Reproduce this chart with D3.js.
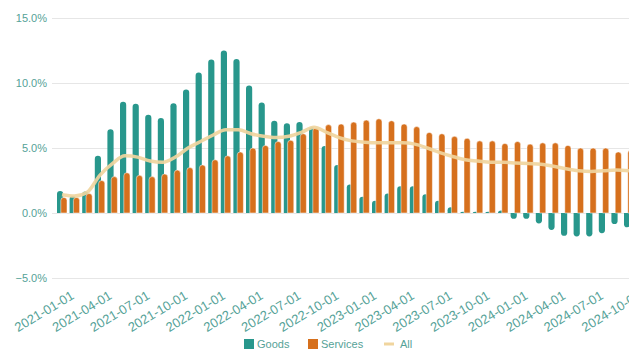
<!DOCTYPE html>
<html>
<head>
<meta charset="utf-8">
<script src="https://cdn.jsdelivr.net/npm/d3@7"></script>
<style>
  html, body { margin: 0; padding: 0; background: #ffffff; }
  svg { display: block; font-family: "Liberation Sans", Arial, Helvetica, sans-serif; }
</style>
</head>
<body>
<svg id="chart" width="629" height="352"></svg>
<script>
// Monthly year-over-year inflation, goods vs services vs all items (%)
const months = [
  "2021-01-01","2021-02-01","2021-03-01","2021-04-01","2021-05-01","2021-06-01",
  "2021-07-01","2021-08-01","2021-09-01","2021-10-01","2021-11-01","2021-12-01",
  "2022-01-01","2022-02-01","2022-03-01","2022-04-01","2022-05-01","2022-06-01",
  "2022-07-01","2022-08-01","2022-09-01","2022-10-01","2022-11-01","2022-12-01",
  "2023-01-01","2023-02-01","2023-03-01","2023-04-01","2023-05-01","2023-06-01",
  "2023-07-01","2023-08-01","2023-09-01","2023-10-01","2023-11-01","2023-12-01",
  "2024-01-01","2024-02-01","2024-03-01","2024-04-01","2024-05-01","2024-06-01",
  "2024-07-01","2024-08-01","2024-09-01","2024-10-01"
];

const goods = [
  1.7, 1.3, 1.65, 4.4, 6.45, 8.55, 8.4, 7.55, 7.3, 8.45, 9.5, 10.8,
  11.8, 12.5, 11.85, 9.8, 8.5, 7.1, 6.9, 7.0, 6.6, 5.15, 3.7, 2.2,
  1.25, 0.95, 1.5, 2.05, 2.05, 1.45, 0.95, 0.45, 0.1, 0.1, 0.1, 0.2,
  -0.45, -0.45, -0.8, -1.3, -1.75, -1.8, -1.8, -1.55, -0.85, -1.1
];

const services = [
  1.2, 1.2, 1.5, 2.5, 2.8, 3.1, 2.9, 2.8, 3.0, 3.3, 3.5, 3.7,
  4.1, 4.4, 4.7, 5.0, 5.2, 5.5, 5.6, 6.1, 6.55, 6.8, 6.85, 7.0,
  7.15, 7.25, 7.1, 6.85, 6.65, 6.2, 6.1, 5.9, 5.75, 5.55, 5.55, 5.35,
  5.5, 5.3, 5.4, 5.4, 5.2, 5.0, 5.0, 5.0, 4.7, 4.85
];

const allItems = [
  1.4, 1.3, 1.6, 2.9, 3.8, 4.4, 4.3, 4.0, 3.9, 4.3, 5.0, 5.5,
  6.0, 6.4, 6.4, 6.1, 5.9, 5.8, 5.9, 6.2, 6.6, 6.2, 5.8, 5.55,
  5.45, 5.4, 5.4, 5.4, 5.3, 5.0, 4.65, 4.35, 4.1, 4.0, 3.9, 3.9,
  3.85, 3.8, 3.75, 3.6, 3.4, 3.25, 3.2, 3.25, 3.3, 3.25
];

const yTicks = [-5, 0, 5, 10, 15];
const tickMonths = months.filter((d, i) => i % 3 === 0);

const colors = { goods: "#28978c", services: "#d6701d", all: "#f0d59e" };
const textColor = "#55a297";

const svg = d3.select("#chart");

// plot extends slightly past the right edge of the canvas
const plotLeft = 55.7, step = 12.6;
const x = d3.scaleBand()
  .domain(months)
  .range([plotLeft, plotLeft + step * months.length])
  .padding(0);

const y = d3.scaleLinear().domain([-5, 15]).range([278, 18]);

// gridlines + y axis labels
const yAxis = d3.axisLeft(y)
  .tickValues(yTicks)
  .tickFormat(d => d3.format(".1f")(d) + "%")
  .tickSize(-(629 - 52))
  .tickPadding(5);

const gy = svg.append("g")
  .attr("transform", "translate(52,0)")
  .call(yAxis);
gy.select(".domain").remove();
gy.selectAll(".tick line").attr("stroke", "#e6e6e6").attr("stroke-width", 1.2);
gy.selectAll(".tick text")
  .attr("fill", textColor)
  .attr("font-size", 11)
  .attr("x", -5);

// bars with rounded outer ends
const barW = 6.2;
function barPath(cx, v) {
  const y0 = y(0), y1 = y(v);
  const h = Math.abs(y0 - y1);
  const r = Math.min(barW / 2, h);
  const xl = cx - barW / 2, xr = cx + barW / 2;
  if (v >= 0) {
    return `M${xl},${y0}V${y1 + r}A${barW / 2},${r} 0 0 1 ${xr},${y1 + r}V${y0}Z`;
  }
  return `M${xl},${y0}V${y1 - r}A${barW / 2},${r} 0 0 0 ${xr},${y1 - r}V${y0}Z`;
}

const center = d => x(d) + x.bandwidth() / 2;

svg.append("g").selectAll("path")
  .data(months)
  .join("path")
  .attr("fill", colors.goods)
  .attr("d", (d, i) => barPath(center(d) - 1.9, goods[i]));

svg.append("g").selectAll("path")
  .data(months)
  .join("path")
  .attr("fill", colors.services)
  .attr("stroke", "#ffffff")
  .attr("stroke-width", 0.5)
  .attr("d", (d, i) => barPath(center(d) + 1.9, services[i]));

// all-items line
const line = d3.line()
  .x((d, i) => center(months[i]))
  .y(d => y(d))
  .curve(d3.curveMonotoneX);

svg.append("path")
  .datum(allItems)
  .attr("fill", "none")
  .attr("stroke", colors.all)
  .attr("stroke-width", 3.5)
  .attr("stroke-opacity", 0.92)
  .attr("stroke-linejoin", "round")
  .attr("d", line);

// rotated x tick labels
const angle = 31;
svg.append("g").selectAll("text")
  .data(tickMonths)
  .join("text")
  .attr("transform", d => `translate(${center(d) + 13},${298}) rotate(${-angle})`)
  .attr("text-anchor", "end")
  .attr("fill", textColor)
  .attr("font-size", 13)
  .text(d => d);

// legend
const legend = svg.append("g");
const legendItems = [
  { label: "Goods", kind: "box", color: colors.goods, x: 244 },
  { label: "Services", kind: "box", color: colors.services, x: 308 },
  { label: "All", kind: "line", color: colors.all, x: 384 }
];
legendItems.forEach(item => {
  if (item.kind === "box") {
    legend.append("rect")
      .attr("x", item.x).attr("y", 339)
      .attr("width", 10).attr("height", 10)
      .attr("fill", item.color);
  } else {
    legend.append("line")
      .attr("x1", item.x).attr("x2", item.x + 10)
      .attr("y1", 344).attr("y2", 344)
      .attr("stroke", item.color).attr("stroke-width", 3);
  }
  legend.append("text")
    .attr("x", item.x + (item.kind === "box" ? 13 : 16))
    .attr("y", 348)
    .attr("fill", textColor)
    .attr("font-size", 11)
    .text(item.label);
});
</script>
</body>
</html>
